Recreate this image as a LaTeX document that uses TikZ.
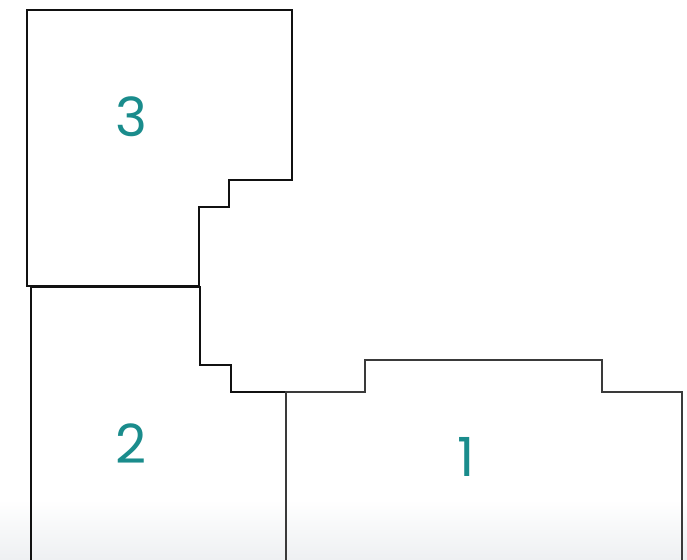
\documentclass[tikz,border=0pt]{standalone}
\usepackage{fontspec}
\setmainfont{Poppins}
\definecolor{teal1}{HTML}{1A8C8C}
\definecolor{wallA}{HTML}{111111}
\definecolor{wallB}{HTML}{3A3A3A}
\definecolor{floorgrey}{HTML}{EEF0F2}
\tikzset{
  wall/.style={draw=wallA, line width=2.3pt, line join=miter},
  wallgrey/.style={draw=wallB, line width=2.3pt, line join=miter},
  roomnum/.style={text=teal1, font=\fontsize{54}{54}\selectfont}
}
\begin{document}
\begin{tikzpicture}[x=1pt,y=-1pt]
\useasboundingbox (0,0) rectangle (687,559);
\shade[top color=white, bottom color=floorgrey] (0,500) rectangle (687,559);
% room 3
\draw[wall] (27,286) -- (27,10) -- (292,10) -- (292,180) -- (229,180) -- (229,207) -- (199,207) -- (199,286) -- cycle;
% room 2
\draw[wall] (31,560) -- (31,287) -- (200,287) -- (200,365) -- (231,365) -- (231,392) -- (287,392);
% room 1
\draw[wallgrey] (286,560) -- (286,392) -- (365,392) -- (365,360) -- (602,360) -- (602,392) -- (682,392) -- (682,560);
\node[roomnum] (n3) at (131,117) {3};
\node[roomnum] (n2) at (131,444) {2};
\node[roomnum] (n1) at (466,457) {1};
\end{tikzpicture}
\end{document}
